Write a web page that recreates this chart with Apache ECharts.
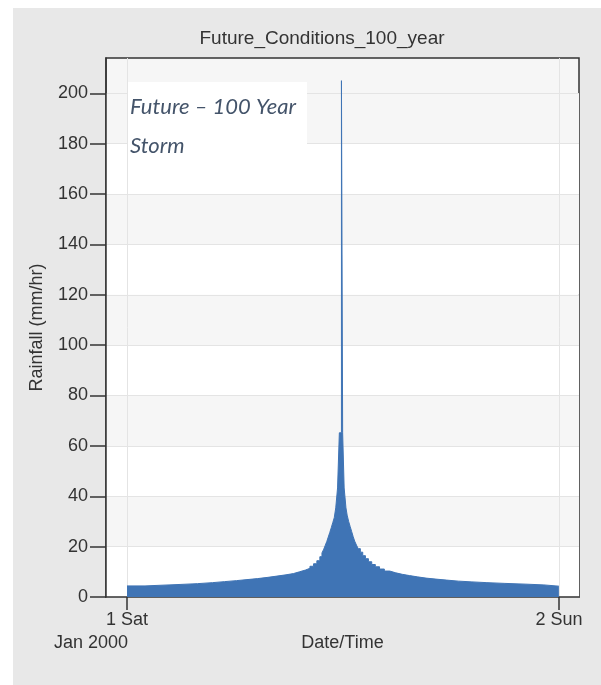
<!DOCTYPE html>
<html lang="en">
<head>
<meta charset="UTF-8">
<title>Future_Conditions_100_year</title>
<script src="https://cdn.jsdelivr.net/npm/echarts@6/dist/echarts.min.js"></script>
<style>
  html, body { margin: 0; padding: 0; background: #fff; }
  #chart { width: 601px; height: 685px; }
</style>
</head>
<body>
<div id="chart"></div>
<script>
  // minutes after 1 Jan 2000 00:00 at which each rainfall block starts (last entry closes the storm)
  var blockStart = [
    0, 60, 120, 180, 235, 285, 325, 365, 400, 435, 470, 500, 530, 555, 575, 595,
    610, 622, 633, 643, 650, 656, 661, 666, 671, 676, 681, 686, 691, 696, 702, 708,
    715, 719, 724, 730, 734, 739, 744, 749, 754, 759, 765, 771, 778, 786, 795, 805,
    816, 828, 842, 858, 876, 896, 918, 942, 968, 997, 1030, 1066, 1105, 1150, 1200,
    1260, 1330, 1390, 1440
  ];
  // rainfall intensity (mm/hr) of each block
  var rainfall = [
    4.4, 4.7, 5.0, 5.3, 5.7, 6.1, 6.5, 6.9, 7.3, 7.8, 8.3, 8.8, 9.3, 10.0, 10.7, 11.4,
    12.2, 13.2, 14.4, 16.0, 17.5, 19.0, 20.5, 22.0, 23.8, 25.6, 27.5, 29.5, 31.5, 35.4, 43.3, 65.2,
    205, 65.2, 43.3, 35.4, 32.5, 30.0, 28.0, 26.0, 24.0, 22.2, 20.6, 19.2, 17.8, 16.4, 15.2, 14.0,
    12.9, 12.0, 11.1, 10.3, 9.6, 9.0, 8.5, 8.0, 7.5, 7.1, 6.7, 6.3, 6.0, 5.7, 5.4,
    5.1, 4.8, 4.3, 4.3
  ];
  var xTickValues = [0, 1440];
  var xTickLabels = ['1 Sat', '2 Sun'];
  var yTickValues = [0, 20, 40, 60, 80, 100, 120, 140, 160, 180, 200];

  var font = 'Arial, "Liberation Sans", sans-serif';
  var textColor = '#333333';
  var noteFont = 'italic 22px Lato, "Open Sans", sans-serif';

  var chart = echarts.init(document.getElementById('chart'));
  chart.setOption({
    animation: false,
    backgroundColor: '#ffffff',
    title: {
      text: 'Future_Conditions_100_year',
      left: 317,
      top: 24,
      textAlign: 'center',
      textStyle: { fontFamily: font, fontSize: 19, fontWeight: 'normal', color: textColor }
    },
    grid: {
      left: 106,
      right: 22,
      top: 58,
      bottom: 88,
      show: true,
      backgroundColor: '#f6f6f6',
      borderColor: '#333333',
      borderWidth: 1.5
    },
    xAxis: {
      type: 'value',
      min: -70,
      max: 1507,
      name: 'Date/Time',
      nameLocation: 'middle',
      nameGap: 36,
      nameTextStyle: { fontFamily: font, fontSize: 18, color: textColor },
      axisLine: { onZero: false, lineStyle: { color: '#333333', width: 1.5 } },
      axisTick: { customValues: xTickValues, length: 13, lineStyle: { color: '#333333', width: 1.5 } },
      axisLabel: {
        customValues: xTickValues,
        margin: 14,
        fontFamily: font,
        fontSize: 18,
        color: textColor,
        formatter: function (v) { return xTickLabels[xTickValues.indexOf(v)]; }
      },
      splitLine: { show: true, lineStyle: { color: '#e4e4e4', width: 1 } }
    },
    yAxis: {
      type: 'value',
      min: 0,
      max: 214,
      interval: 20,
      name: 'Rainfall (mm/hr)',
      nameLocation: 'middle',
      nameGap: 60,
      nameTextStyle: { fontFamily: font, fontSize: 18, color: textColor },
      axisLine: { show: true, onZero: false, lineStyle: { color: '#333333', width: 1.5 } },
      axisTick: { show: true, customValues: yTickValues, length: 16, lineStyle: { color: '#333333', width: 1.5 } },
      axisLabel: { customValues: yTickValues, margin: 18, fontFamily: font, fontSize: 18, color: textColor },
      splitLine: { show: true, lineStyle: { color: '#e4e4e4', width: 1 } },
      splitArea: { show: true, areaStyle: { color: ['#ffffff', '#f6f6f6'] } }
    },
    series: [{
      type: 'line',
      step: 'end',
      showSymbol: false,
      data: blockStart.map(function (t, i) { return [t, rainfall[i]]; }),
      lineStyle: { color: '#3f74b5', width: 1 },
      itemStyle: { color: '#3f74b5' },
      areaStyle: { color: '#3f74b5', opacity: 1 }
    }],
    graphic: [
      {
        type: 'rect',
        z: -10,
        shape: { x: 13, y: 8, width: 588, height: 677 },
        style: { fill: '#e8e8e8' }
      },
      {
        type: 'text',
        x: 91,
        y: 643,
        style: {
          text: 'Jan 2000', fill: textColor, font: '18px ' + font,
          textAlign: 'center', textVerticalAlign: 'middle'
        }
      },
      {
        type: 'rect',
        z: 100,
        shape: { x: 128, y: 82, width: 179, height: 84 },
        style: { fill: '#ffffff' }
      },
      {
        type: 'text',
        z: 101,
        x: 130,
        y: 107,
        style: { text: 'Future – 100 Year', fill: '#44546a', font: noteFont, textVerticalAlign: 'middle' }
      },
      {
        type: 'text',
        z: 101,
        x: 130,
        y: 146,
        style: { text: 'Storm', fill: '#44546a', font: noteFont, textVerticalAlign: 'middle' }
      }
    ]
  });
</script>
</body>
</html>
